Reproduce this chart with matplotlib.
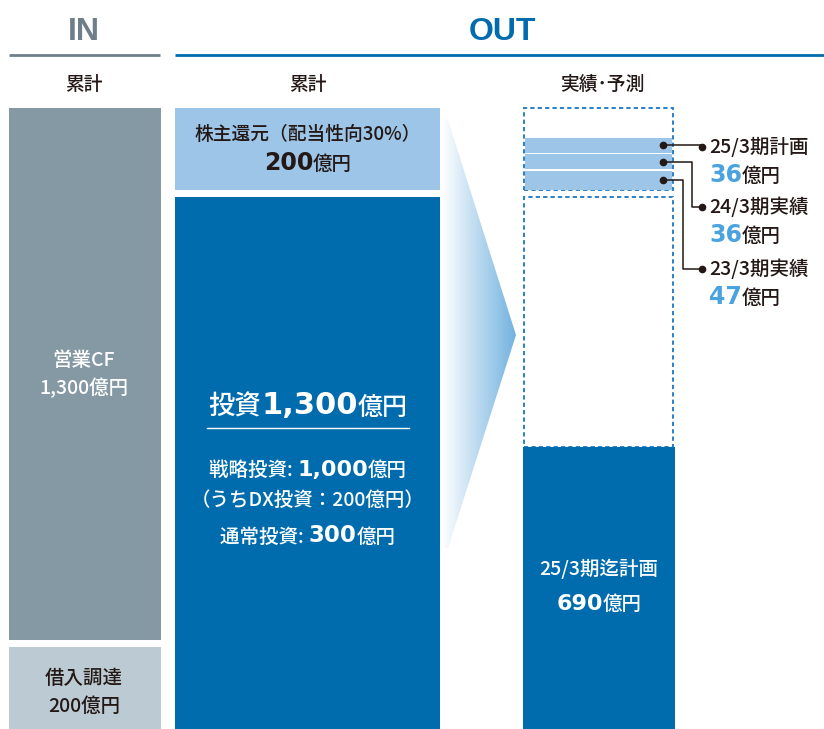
import matplotlib
matplotlib.use("Agg")
import matplotlib.pyplot as plt
import numpy as np
from matplotlib.patches import Polygon, Rectangle
from matplotlib.offsetbox import TextArea, HPacker, AnnotationBbox
from matplotlib.colors import to_rgb

plt.rcParams['font.family'] = ['Noto Sans CJK JP', 'DejaVu Sans']
plt.rcParams['font.weight'] = 'medium'

# ---- data (億円) ----
in_labels = ["借入調達", "営業CF"]
in_values = [200, 1300]
out_labels = ["投資", "株主還元"]
out_values = [1300, 200]
plan_label = "25/3期迄計画"
plan_value = 690
strategic_invest = 1000
dx_invest = 200
regular_invest = 300
payout_ratio = 30
return_periods = ["23/3期実績", "24/3期実績", "25/3期計画"]
return_values = [47, 36, 36]

# ---- layout ----
W, H = 824, 729
PX = 0.4093        # pixels per 億円
GAP = 17           # gap between stacked blocks (億円 units)
SUB_GAP = 4
FS = 14            # regular text size

DARK = "#231815"
GRAY = "#6e7f89"
IN_DARK = "#8599a5"
IN_LIGHT = "#bccbd3"
BLUE = "#006cad"
LIGHT = "#9cc5e8"
DASH = "#2a80c5"
NUM_BLUE = "#4aa3df"

fig = plt.figure(figsize=(W / 100, H / 100), dpi=100)
ax = fig.add_axes([0, 0, 1, 1])
ax.set_xlim(0, W)
ax.set_ylim(0, H / PX)
ax.axis("off")


def ypx(p):
    # pixel row (from top) -> data units
    return (H - p) / PX


def rich(x, y, parts, ha=0.5, sep=0):
    boxes = []
    for s, fs, bold, c in parts:
        fam = ['DejaVu Sans'] if bold else ['Noto Sans CJK JP', 'DejaVu Sans']
        boxes.append(TextArea(s, textprops=dict(fontsize=fs, color=c, family=fam,
                                                fontweight="bold" if bold else "medium")))
    pack = HPacker(children=boxes, align="baseline", pad=0, sep=sep)
    ab = AnnotationBbox(pack, (x, ypx(y)), xycoords="data", box_alignment=(ha, 0.5),
                        frameon=False, pad=0)
    ax.add_artist(ab)


# ---- headers ----
hdr = dict(family=['Liberation Sans', 'DejaVu Sans'], fontweight="bold", fontsize=23,
           ha="center", va="center")
ax.text(84, ypx(32), "IN", color=GRAY, **hdr)
ax.text(503, ypx(32), "OUT", color=BLUE, **hdr)
ax.plot([9, 160], [ypx(55)] * 2, color=GRAY, lw=2, solid_capstyle="butt")
ax.plot([175, W], [ypx(55)] * 2, color=BLUE, lw=2, solid_capstyle="butt")

sub = dict(fontsize=13.5, color=DARK, ha="center", va="center")
ax.text(84, ypx(84), "累計", **sub)
ax.text(308, ypx(84), "累計", **sub)
ax.text(602, ypx(84), "実績･予測", **sub)

# ---- IN column ----
in_bottoms = [0, in_values[0] + GAP]
ax.bar(9, in_values, bottom=in_bottoms, width=152, align="edge",
       color=[IN_LIGHT, IN_DARK])

# ---- OUT column ----
out_bottoms = [0, out_values[0] + GAP]
ax.bar(175, out_values, bottom=out_bottoms, width=265, align="edge",
       color=[BLUE, LIGHT])

# ---- progress column ----
ax.add_patch(Rectangle((524, plan_value), 149, out_values[0] - plan_value,
                       fill=False, ec=DASH, lw=1.4, ls=(0, (2.2, 1.6))))
ax.add_patch(Rectangle((524, out_bottoms[1]), 149, out_values[1],
                       fill=False, ec=DASH, lw=1.4, ls=(0, (2.2, 1.6))))
ax.bar(523, plan_value, width=152, align="edge", color=BLUE)

ret_bottoms = out_bottoms[1] + np.concatenate([[0], np.cumsum(np.array(return_values) + SUB_GAP)[:-1]])
ax.bar(525, return_values, bottom=ret_bottoms, width=147, align="edge", color=LIGHT)

# leaders
ret_centers = ret_bottoms + np.array(return_values) / 2
label_rows = [269, 207, 147]
elbow_x = [683, 692, 702]
for yc, row, ex in zip(ret_centers, label_rows, elbow_x):
    ax.plot([663, ex, ex, 702], [yc, yc, ypx(row), ypx(row)], color=DARK, lw=1.1)
    ax.plot([663, 702], [yc, ypx(row)], ls="none", marker="o", ms=4.5, color=DARK)

for period, val, row in zip(return_periods, return_values, label_rows):
    ax.text(709, ypx(row), period, fontsize=FS, color=DARK, ha="left", va="center")
    rich(709, row + 28, [(str(val), 17, True, NUM_BLUE), ("億円", FS, False, DARK)], ha=0)

# ---- gradient wedge ----
wedge_px = [(442, 118), (448, 120), (516, 335), (448, 548), (442, 548)]
wedge = Polygon([(x, ypx(y)) for x, y in wedge_px], closed=True, fc="none", ec="none")
ax.add_patch(wedge)
c0 = np.array(to_rgb("#ffffff"))
c1 = np.array(to_rgb("#72b2df"))
t = np.linspace(0, 1, 256)[None, :, None]
grad = c0 + (c1 - c0) * t
im = ax.imshow(grad, extent=[442, 516, ypx(548), ypx(118)], aspect="auto",
               interpolation="bilinear", zorder=1)
im.set_clip_path(wedge)

# ---- texts ----
W_ = "white"
ax.text(84, ypx(360), in_labels[1], fontsize=FS, color=W_, ha="center", va="center")
ax.text(84, ypx(388), f"{in_values[1]:,}億円", fontsize=FS, color=W_, ha="center", va="center")
ax.text(84, ypx(678), in_labels[0], fontsize=FS, color=DARK, ha="center", va="center")
ax.text(84, ypx(706), f"{in_values[0]}億円", fontsize=FS, color=DARK, ha="center", va="center")

ax.text(308, ypx(134), f"{out_labels[1]}（配当性向{payout_ratio}%）", fontsize=13.5,
        color=DARK, ha="center", va="center")
rich(308, 163, [(str(out_values[1]), 17, True, DARK), ("億円", FS, False, DARK)])

rich(308, 406, [(out_labels[0], 19, False, W_), (f"{out_values[0]:,}", 22, True, W_),
                ("億円", 18, False, W_)])
ax.plot([207, 409], [ypx(428)] * 2, color=W_, lw=1)
rich(308, 470, [("戦略投資: ", FS, False, W_), (f"{strategic_invest:,}", 16, True, W_),
                ("億円", FS, False, W_)])
ax.text(308, ypx(500), f"（うちDX投資：{dx_invest}億円）", fontsize=FS, color=W_,
        ha="center", va="center")
rich(308, 536, [("通常投資: ", FS, False, W_), (str(regular_invest), 16.5, True, W_),
                ("億円", FS, False, W_)])

ax.text(599, ypx(569), plan_label, fontsize=FS, color=W_, ha="center", va="center")
rich(599, 604, [(str(plan_value), 16, True, W_), ("億円", FS, False, W_)])

fig.savefig("out.png", dpi=100)
